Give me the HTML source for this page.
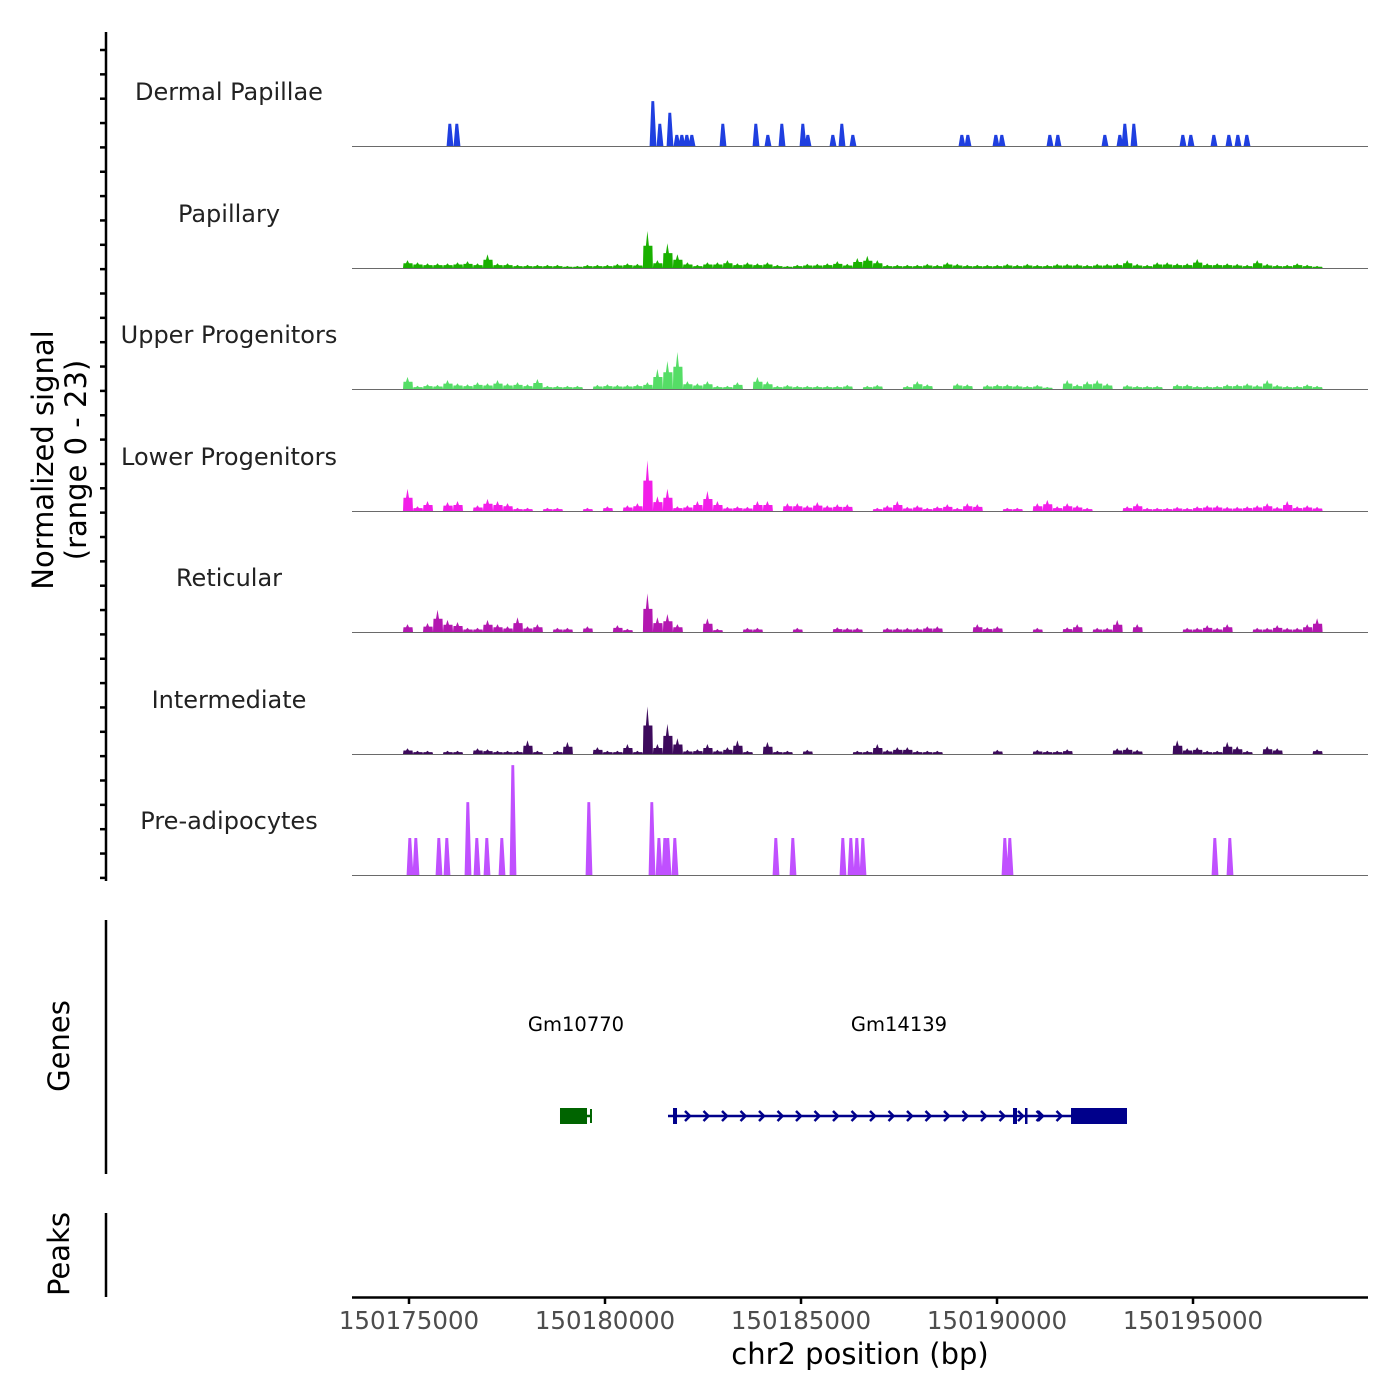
<!DOCTYPE html>
<html><head><meta charset="utf-8">
<style>
html,body{margin:0;padding:0;background:#fff;}
svg{display:block;font-family:"DejaVu Sans","Liberation Sans",sans-serif;}
</style></head>
<body>
<svg id="chart" width="1400" height="1400" viewBox="0 0 1400 1400" xmlns="http://www.w3.org/2000/svg">
<rect width="1400" height="1400" fill="#fff"/>
<g id="tracks"></g>
<g id="axes"></g>
<g id="genes"></g>
<text transform="translate(53,460) rotate(-90)" text-anchor="middle" font-size="29" fill="#000">Normalized signal</text>
<text transform="translate(86,460) rotate(-90)" text-anchor="middle" font-size="29" fill="#000">(range 0 - 23)</text>
<text transform="translate(69,1046) rotate(-90)" text-anchor="middle" font-size="29" fill="#000">Genes</text>
<text transform="translate(69,1254) rotate(-90)" text-anchor="middle" font-size="29" fill="#000">Peaks</text>
<text x="860" y="1364" text-anchor="middle" font-size="29" fill="#000">chr2 position (bp)</text>
</svg>
<script>
const trackNames = ["Dermal Papillae","Papillary","Upper Progenitors","Lower Progenitors","Reticular","Intermediate","Pre-adipocytes"];
const trackColors = ["#1f3fe0","#19b000","#55dd66","#f21ee8","#b317b0","#3d0a5c","#c050ff"];
const xTicks = [150175000,150180000,150185000,150190000,150195000];
const xTickLabels = ["150175000","150180000","150185000","150190000","150195000"];
// sparse tracks: positions (bp) and values
const dermalPos = [150176046,150176224,150181224,150181403,150181658,150181837,150181964,150182092,150182219,150183010,150183852,150184158,150184515,150185051,150185178,150185816,150186046,150186326,150189107,150189260,150189974,150190127,150191352,150191556,150192755,150193138,150193265,150193495,150194745,150194949,150195536,150195918,150196148,150196377];
const dermalVal = [4.2,4.2,8.5,4.2,6.3,2.1,2.1,2.1,2.1,4.2,4.2,2.1,4.2,4.2,2.1,2.1,4.2,2.1,2.1,2.1,2.1,2.1,2.1,2.1,2.1,2.1,4.2,4.2,2.1,2.1,2.1,2.1,2.1,2.1];
const preadipPos = [150175026,150175179,150175765,150175969,150176505,150176735,150176990,150177372,150177653,150179592,150181199,150181380,150181531,150181607,150181786,150184362,150184796,150186071,150186275,150186428,150186582,150190204,150190332,150195561,150195943];
const preadipVal = [7,7,7,7,13.8,7,7,7,20.8,13.8,13.8,7,7,7,7,7,7,7,7,7,7,7,7,7,7];
// dense tracks: binned values, bins of 255 bp starting at binStart
const binStart = 150174847;
const binSize = 255;
const papillaryVal = [1.5,1.1,0.9,0.9,0.9,1.1,1.3,0.9,2.6,0.9,0.9,0.6,0.6,0.6,0.6,0.6,0.4,0.4,0.6,0.6,0.6,0.8,0.9,0.8,7.0,1.5,4.7,2.6,1.1,0.6,1.1,1.1,1.5,0.9,1.1,0.9,1.1,0.6,0.4,0.6,0.8,0.8,0.9,1.3,0.8,1.9,2.3,1.5,0.6,0.6,0.6,0.6,0.8,0.6,1.1,0.8,0.6,0.6,0.6,0.6,0.8,0.6,0.8,0.6,0.6,0.8,0.8,0.8,0.6,0.8,0.8,0.9,1.5,0.8,0.6,1.1,1.1,0.9,0.9,1.7,0.9,0.9,0.9,0.8,0.6,1.5,0.8,0.6,0.6,0.9,0.6,0.4,0];
const upperVal = [2.3,0.6,0.9,0.8,1.7,1.1,0.9,1.3,1.1,1.7,1.1,1.3,0.9,1.9,0.6,0.6,0.6,0.6,0,0.8,0.9,0.8,0.8,0.9,1.3,3.8,5.3,7.0,1.5,1.1,1.5,0.6,0.6,1.3,0,2.3,1.5,0.6,0.8,0.6,0.6,0.6,0.6,0.6,0.8,0,0.6,0.8,0,0,0.6,1.5,0.9,0,0,1.1,0.9,0,0.8,0.9,0.9,0.8,0.6,0.8,0.4,0,1.7,0.9,1.5,1.7,1.1,0,0.8,0.6,0.6,0.6,0,0.9,0.9,0.6,0.6,0.6,0.9,0.9,1.1,0.8,1.7,0.8,0.6,0.6,0.9,0.6,0];
const lowerVal = [4.2,0.9,1.9,0,1.7,1.9,0,1.1,2.3,1.9,1.5,0.6,0.6,0,0.6,0.6,0,0,0.6,0,0.9,0,1.1,1.5,9.6,2.8,4.2,0.9,1.1,1.9,3.8,1.9,0.8,0.9,0.8,1.9,1.9,0,1.5,1.5,1.1,1.7,1.1,1.3,1.3,0,0,0.6,1.1,1.9,0.8,1.1,0.6,0.9,1.3,0.6,1.5,1.3,0,0,0.6,0.6,0,1.5,2.1,0.9,1.5,1.1,0.6,0,0,0,0.9,1.5,0.6,0.6,0.6,0.8,0.6,0.9,1.1,1.1,0.8,0.8,0.9,1.1,1.5,0.8,1.9,0.9,1.1,0.8,0];
const reticularVal = [1.5,0,1.7,4.2,2.3,1.9,0.8,0.8,2.3,1.5,1.1,2.8,1.1,1.5,0,0.8,0.8,0,1.1,0,0,1.3,0.6,0,7.3,2.8,3.4,1.5,0,0,2.6,0.6,0,0,0.8,0.8,0,0,0,0.8,0,0,0,0.9,0.8,0.8,0,0,0.8,0.8,0.8,0.8,1.1,1.1,0,0,0,1.5,0.9,1.1,0,0,0,0.8,0,0,0.9,1.5,0,0.8,0.8,2.3,0,1.5,0,0,0,0,0.8,0.8,1.3,0.8,1.5,0,0,0.8,0.8,1.3,0.8,0.8,1.5,2.6,0];
const intermediateVal = [1.1,0.6,0.6,0,0.6,0.6,0,1.1,0.9,0.6,0.6,0.6,2.6,0.6,0,0.6,2.3,0,0,1.3,0.6,0.6,1.9,0.6,9.0,1.9,5.7,3.0,0.8,0.9,1.9,0.8,1.3,2.6,0.6,0,2.3,0.6,0.6,0,0.8,0,0,0,0,0.6,0.6,1.9,0.8,1.3,1.3,0.6,0.6,0.6,0,0,0,0,0,0.8,0,0,0,0.8,0.6,0.6,0.9,0,0,0,0,1.1,1.3,0.8,0,0,0,2.6,1.1,1.3,0.6,0.6,2.3,1.5,0.6,0,1.5,1.1,0,0,0,0.9,0];
// genes
const geneNames = ["Gm10770","Gm14139"];
const geneStart = [150178852,150181607];
const geneEnd = [150179668,150193316];
const geneColors = ["#006400","#00008b"];
const exonGene = [0,1,1,1,1];
const exonStart = [150178852,150181735,150190408,150190714,150191888];
const exonEnd = [150179541,150181837,150190510,150190765,150193316];

const NS = "http://www.w3.org/2000/svg";
const X0 = 352, X1 = 1368, BP0 = 150173546, BP1 = 150199464;
function xS(bp){ return X0 + (bp - BP0) / (BP1 - BP0) * (X1 - X0); }
const baselines = [146,268,389,511,632,754,875];
const trackH = 121.5, YMAX = 23;
function yS(t, v){ return baselines[t] - v / YMAX * trackH; }
function mk(tag, attrs, parent){ const e = document.createElementNS(NS, tag); for (const k in attrs) e.setAttribute(k, attrs[k]); parent.appendChild(e); return e; }

const tracksG = document.getElementById('tracks');
const denseVals = [null, papillaryVal, upperVal, lowerVal, reticularVal, intermediateVal, null];
for (let t = 0; t < 7; t++) {
  const g = mk('g', {}, tracksG);
  
  
  const lbl = mk('text', {x: 229, y: baselines[t] - 46, 'text-anchor': 'middle', 'font-size': 24, fill: '#222'}, g);
  lbl.textContent = trackNames[t];
  
  
  const b = baselines[t];
  let d = '';
  if (t === 0 || t === 6) {
    const pos = t === 0 ? dermalPos : preadipPos, val = t === 0 ? dermalVal : preadipVal;
    const hw = 3.4;
    for (let i = 0; i < pos.length; i++) {
      const xc = xS(pos[i]), yt = yS(t, val[i]);
      d += `M${(xc-hw).toFixed(1)},${b}L${(xc-1.6).toFixed(1)},${yt.toFixed(1)}L${(xc+1.2).toFixed(1)},${yt.toFixed(1)}L${(xc+hw).toFixed(1)},${b}Z`;
    }
  } else {
    const vals = denseVals[t];
    for (let i = 0; i < vals.length; i++) {
      if (vals[i] <= 0) continue;
      const xa = xS(binStart + i * binSize), xb = xS(binStart + (i + 1) * binSize), xc = (xa + xb) / 2;
      const yt = yS(t, vals[i]), ym = yS(t, vals[i] * 0.6);
      d += `M${xa.toFixed(1)},${b}L${(xa+0.5).toFixed(1)},${ym.toFixed(1)}L${(xc-2).toFixed(1)},${ym.toFixed(1)}L${(xc-0.5).toFixed(1)},${yt.toFixed(1)}L${(xc+1).toFixed(1)},${ym.toFixed(1)}L${(xb-0.5).toFixed(1)},${ym.toFixed(1)}L${xb.toFixed(1)},${b}Z`;
    }
  }
  const p = mk('path', {d: d, fill: trackColors[t]}, g);
  
  
  const bl = mk('line', {x1: X0, x2: X1, y1: b + 0.5, y2: b + 0.5, stroke: '#6a6a6a', 'stroke-width': 1}, g);
  
  
}

const axesG = document.getElementById('axes');
function line(x1,y1,x2,y2,w,name){ const l = mk('line',{x1:x1,y1:y1,x2:x2,y2:y2,stroke:'#000','stroke-width':w},axesG);   return l; }
line(106,32,106,881,2.5,'y-axis-line');
for (let k = 0; k <= 34; k++) { const y = 50 + k * 24.35; line(100,y,106,y,2.5,'y-axis-tick'); }
line(106,920,106,1174,2.5,'genes-axis-line');
line(106,1213,106,1297,2.5,'peaks-axis-line');
line(352,1297.5,1368,1297.5,2.5,'x-axis-line');
for (let i = 0; i < xTicks.length; i++) {
  const x = xS(xTicks[i]);
  line(x,1297,x,1304,2.5,'x-axis-tick');
  const tl = mk('text',{x:x,y:1329,'text-anchor':'middle','font-size':24.5,fill:'#4d4d4d'},axesG);
  tl.textContent = xTickLabels[i];
  
  
}

const genesG = document.getElementById('genes');
const gy = 1116;
for (let i = 0; i < geneNames.length; i++) {
  const xa = xS(geneStart[i]), xb = xS(geneEnd[i]), c = geneColors[i];
  const gl = mk('line',{x1:xa,x2:xb,y1:gy,y2:gy,stroke:c,'stroke-width':2.5},genesG);
  
  
  const nm = mk('text',{x:(i===0?576:899),y:1031,'text-anchor':'middle','font-size':19.5,fill:'#000'},genesG);
  nm.textContent = geneNames[i];
  
  
  if (i === 1) {
    for (let x = xa + 20; x < xb - 75; x += 18.5) {
      const ar = mk('path',{d:`M${x-3},${gy-5}L${x+2},${gy}L${x-3},${gy+5}`,fill:'none',stroke:c,'stroke-width':2.5},genesG);
      
      
    }
    for (let x = xS(exonEnd[3]) + 14; x < xS(exonStart[4]); x += 18.5) {
      const ar = mk('path',{d:`M${x-3},${gy-5}L${x+2},${gy}L${x-3},${gy+5}`,fill:'none',stroke:c,'stroke-width':2.5},genesG);
      
      
    }
  } else {
    const tk = mk('line',{x1:xb-1,x2:xb-1,y1:gy-7,y2:gy+7,stroke:c,'stroke-width':2},genesG);
    
    
  }
}
for (let i = 0; i < exonStart.length; i++) {
  const xa = xS(exonStart[i]), xb = xS(exonEnd[i]);
  const r = mk('rect',{x:xa,y:gy-8,width:Math.max(2.5,xb-xa),height:16,fill:geneColors[exonGene[i]]},genesG);
  
  
}
</script>
</body></html>
